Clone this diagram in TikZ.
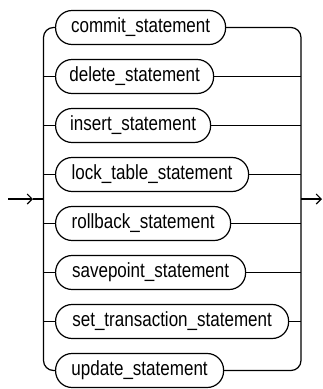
\documentclass[tikz,border=0pt]{standalone}
\usepackage{fontspec}
\setmainfont{Liberation Sans}[FakeStretch=0.83]
\usetikzlibrary{arrows.meta}
\begin{document}
\begin{tikzpicture}[x=1pt,y=-1pt,
  line width=1.2pt,
  stmt/.style={draw,rounded corners=16.5pt,minimum height=34pt,inner sep=0pt,anchor=west,font=\fontsize{20.5}{20.5}\selectfont},
  tip/.style={-{Straight Barb[length=5pt,width=10pt,line width=1.1pt]}}]
\useasboundingbox (0,0) rectangle (323,389);
\def\xl{43.5}\def\xr{301}
\node[stmt,minimum width=170pt] (c1) at (55,27.5) {commit\_statement};
\node[stmt,minimum width=158pt] (c2) at (55,76.5) {delete\_statement};
\node[stmt,minimum width=155pt] (c3) at (55,125.5) {insert\_statement};
\node[stmt,minimum width=193pt] (c4) at (55,174.5) {lock\_table\_statement};
\node[stmt,minimum width=175pt] (c5) at (55,223.5) {rollback\_statement};
\node[stmt,minimum width=190pt] (c6) at (55,272.5) {savepoint\_statement};
\node[stmt,minimum width=233pt] (c7) at (55,321.5) {set\_transaction\_statement};
\node[stmt,minimum width=168pt] (c8) at (55,370.5) {update\_statement};
\coordinate (start) at (8,199);
\coordinate (mid) at (33,199);
\coordinate (join) at (\xl,199);
\coordinate (split) at (\xr,199);
\coordinate (finish) at (322,199);
\draw[rounded corners=10pt] (c1.west) -- (\xl,27.5) -- (\xl,370.5) -- (c8.west);
\draw[rounded corners=10pt] (c1.east) -- (\xr,27.5) -- (\xr,370.5) -- (c8.east);
\foreach \i in {2,...,7}{
  \draw (\xl,0 |- c\i.west) -- (c\i.west);
  \draw (c\i.east) -- (\xr,0 |- c\i.east);
}
\draw[tip] (start) -- (mid);
\draw (mid) -- (join);
\draw[tip] (split) -- (finish);
\end{tikzpicture}
\end{document}
